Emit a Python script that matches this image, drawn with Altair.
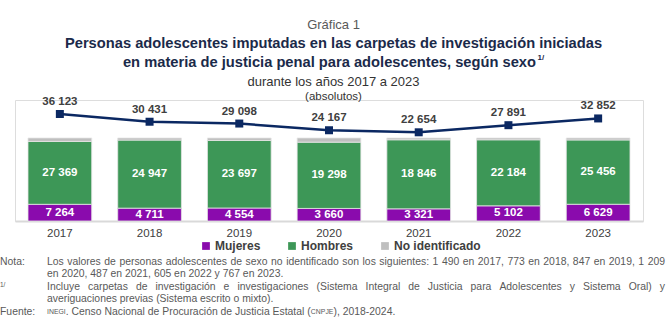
import altair as alt
import pandas as pd

years = ["2017", "2018", "2019", "2020", "2021", "2022", "2023"]
mujeres = [7264, 4711, 4554, 3660, 3321, 5102, 6629]
hombres = [27369, 24947, 23697, 19298, 18846, 22184, 25456]
no_ident = [1490, 773, 847, 1209, 487, 605, 767]
totales = [36123, 30431, 29098, 24167, 22654, 27891, 32852]

series = ["Mujeres", "Hombres", "No identificado"]
colors = ["#8A0BAD", "#3D9757", "#BFBFBF"]

FONT = "Liberation Sans"
W, H = 628, 121
CX = 318.5
BAR_TOP = 121 / 83.0  # normalized stack reaches 83 px of 121

rows = []
for i, y in enumerate(years):
    for k, (name, vals) in enumerate(zip(series, [mujeres, hombres, no_ident])):
        rows.append({"year": y, "sexo": name, "valor": vals[i], "orden": k})
bars_df = pd.DataFrame(rows)
tot_df = pd.DataFrame({"year": years, "total": totales})

xenc = alt.X(
    "year:N",
    sort=years,
    scale=alt.Scale(paddingInner=0.29, paddingOuter=0.145),
    axis=alt.Axis(
        title=None, labelAngle=0, ticks=False, domainColor="#D9D9D9", domainWidth=2,
        labelFontSize=11.5, labelColor="#404040", labelPadding=6, labelFont=FONT,
    ),
)

ybar = alt.Y("valor:Q", stack="normalize", scale=alt.Scale(domain=[0, BAR_TOP]), axis=None)

bars = alt.Chart(bars_df).mark_bar(stroke="#E4E4E4", strokeWidth=0.8).encode(
    x=xenc,
    y=ybar,
    color=alt.Color(
        "sexo:N",
        scale=alt.Scale(domain=series, range=colors),
        sort=series,
        legend=alt.Legend(
            title=None, orient="none", legendX=185, legendY=140, direction="horizontal",
            symbolType="square", symbolSize=60, symbolStrokeWidth=0,
            labelFontSize=12, labelFontWeight="bold", labelColor="#404040",
            labelFont=FONT, columnPadding=25, labelOffset=3,
        ),
    ),
    order=alt.Order("orden:Q"),
)

bar_labels = (
    alt.Chart(bars_df)
    .transform_stack(stack="valor", as_=["v0", "v1"], groupby=["year"],
                     sort=[alt.SortField("orden")], offset="normalize")
    .transform_filter("datum.sexo != 'No identificado'")
    .transform_calculate(mid="(datum.v0 + datum.v1) / 2",
                         lab="replace(format(datum.valor, ',d'), ',', ' ')")
    .mark_text(color="white", fontWeight="bold", fontSize=11.5, font=FONT)
    .encode(x=xenc, y=alt.Y("mid:Q", scale=alt.Scale(domain=[0, BAR_TOP]), axis=None), text="lab:N")
)

yline = alt.Y("total:Q", scale=alt.Scale(domain=[-42629, 46427]), axis=None)
line = alt.Chart(tot_df).mark_line(color="#0B2862", strokeWidth=2.5).encode(x=xenc, y=yline)
pts = alt.Chart(tot_df).mark_square(color="#0B2862", size=64, opacity=1).encode(x=xenc, y=yline)
line_labels = (
    alt.Chart(tot_df)
    .transform_calculate(lab="replace(format(datum.total, ',d'), ',', ' ')")
    .mark_text(dy=-12, fontWeight="bold", fontSize=11.5, color="#404040", font=FONT)
    .encode(x=xenc, y=yline, text="lab:N")
)


def txt(s, x, y, size, weight="normal", color="#404040", align="center"):
    return alt.Chart(pd.DataFrame({"t": [s]})).mark_text(
        fontSize=size, fontWeight=weight, color=color, align=align, baseline="middle", font=FONT
    ).encode(text="t:N", x=alt.value(x), y=alt.value(y))


# Arial / Liberation Sans regular advance widths (per 1000 em) for text layout
AW = {" ": 278, "(": 333, ")": 333, ",": 278, "-": 333, ".": 278, "/": 278, ":": 278}
AW.update({d: 556 for d in "0123456789"})
AW.update(dict(zip("ABCDEFGHIJKLMNOPQRSTUVWXYZ",
                   [667, 667, 722, 722, 667, 611, 778, 722, 278, 500, 667, 556, 833, 722, 778,
                    667, 778, 722, 667, 611, 722, 667, 944, 667, 667, 611])))
AW.update(dict(zip("abcdefghijklmnopqrstuvwxyz",
                   [556, 556, 500, 556, 556, 278, 556, 556, 222, 222, 500, 222, 833, 556, 556,
                    556, 556, 333, 500, 278, 556, 500, 722, 500, 500, 500])))
AW.update({"ó": 556, "á": 556, "é": 556, "í": 278, "ñ": 556, "ú": 556})


def tw(s, size):
    return sum(AW.get(c, 556) for c in s) * size / 1000.0


def justified(s, x0, x1, y, size, color):
    words = s.split(" ")
    widths = [tw(w, size) for w in words]
    gap = (x1 - x0 - sum(widths)) / (len(words) - 1)
    out, x = [], x0
    for w, wd in zip(words, widths):
        out.append(txt(w, x, y, size, color=color, align="left"))
        x += wd + gap
    return out


NAVY = "#1B2A4A"
GREY = "#595959"
NS = 10.4
L0, R0 = 32, 650
texts = [
    txt("Gráfica 1", CX, -75, 13, color=GREY),
    txt("Personas adolescentes imputadas en las carpetas de investigación iniciadas", CX, -56, 14.7, "bold", NAVY),
    txt("en materia de justicia penal para adolescentes, según sexo", 521, -37, 14.7, "bold", NAVY, "right"),
    txt("1/", 522.5, -42, 8, "bold", NAVY, "left"),
    txt("durante los años 2017 a 2023", CX, -18, 13, color="#333333"),
    txt("(absolutos)", CX, -3, 11.5, color="#333333"),
    txt("Nota:", -15, 162, NS, color=GREY, align="left"),
    txt("en 2020, 487 en 2021, 605 en 2022 y 767 en 2023.", L0, 174, NS, color=GREY, align="left"),
    txt("1/", -15, 185, 6.5, color=GREY, align="left"),
    txt("averiguaciones previas (Sistema escrito o mixto).", L0, 199, NS, color=GREY, align="left"),
    txt("Fuente:", -15, 212, NS, color=GREY, align="left"),
]
texts += justified(
    "Los valores de personas adolescentes de sexo no identificado son los siguientes: 1 490 en 2017, 773 en 2018, 847 en 2019, 1 209",
    L0, R0, 162, NS, GREY)
texts += justified(
    "Incluye carpetas de investigación e investigaciones (Sistema Integral de Justicia para Adolescentes y Sistema Oral) y",
    L0, R0, 187, NS, GREY)

# Fuente line with small caps for acronyms
SC = 6.9
parts = [("INEGI", SC), (". Censo Nacional de Procuración de Justicia Estatal (", NS), ("CNPJE", SC), ("), 2018-2024.", NS)]
x = L0
for s, sz in parts:
    scw = sum({"I": 278, "N": 722, "E": 667, "G": 778, "C": 722, "P": 667, "J": 500}.get(c, 600) for c in s) * sz / 1000.0
    texts.append(txt(s, x, 212, sz, color=GREY, align="left"))
    x += scw if sz == SC else tw(s, sz)

chart = (
    alt.layer(bars, bar_labels, line, pts, line_labels, *texts)
    .resolve_scale(y="independent")
    .properties(
        width=W, height=H,
        autosize=alt.AutoSizeParams(type="none"),
        padding={"left": 15, "top": 100, "right": 24, "bottom": 107},
    )
    .configure_view(stroke=None)
    .configure(font=FONT, background="white")
)

chart.save("out.html", embed_options={"renderer": "svg", "actions": False})
